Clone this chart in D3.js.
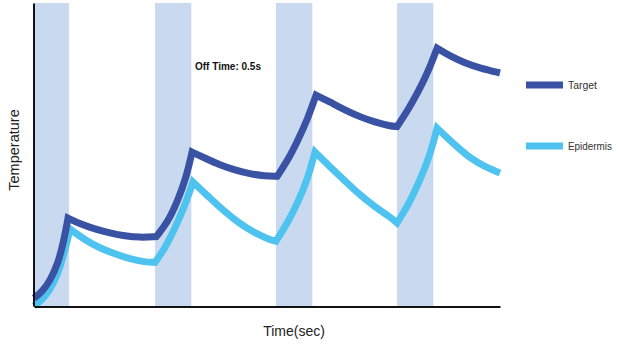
<!DOCTYPE html>
<html>
<head>
<meta charset="utf-8">
<script src="https://cdn.jsdelivr.net/npm/d3@7"></script>
<style>
  html, body { margin: 0; padding: 0; background: #fff; }
  svg { display: block; }
</style>
</head>
<body>
<svg id="chart" width="618" height="349"></svg>
<script>
// ---- data ----
// heating pulses (on-time windows), in seconds
const pulseStart = [0, 1, 2, 3];
const pulseEnd   = [0.29, 1.3, 2.3, 3.3];

// Target temperature curve (segments split at peaks/troughs)
const targetTime = [
  [0, 0.066, 0.132, 0.198, 0.248, 0.281],
  [0.281, 0.38, 0.504, 0.628, 0.752, 0.876, 1.01],
  [1.01, 1.107, 1.19, 1.256, 1.306],
  [1.306, 1.413, 1.537, 1.661, 1.785, 1.909, 2.01],
  [2.01, 2.099, 2.182, 2.264, 2.331],
  [2.331, 2.446, 2.57, 2.694, 2.818, 2.942, 3.0],
  [3.0, 3.091, 3.174, 3.256, 3.331],
  [3.331, 3.438, 3.562, 3.686, 3.851]
];
const targetTemp = [
  [2.6, 4.6, 8.3, 13.9, 21.8, 29.0],
  [29.0, 27.1, 25.4, 24.1, 23.1, 22.6, 22.9],
  [22.9, 27.7, 35.0, 42.2, 50.8],
  [50.8, 48.8, 46.5, 44.9, 43.6, 42.9, 42.8],
  [42.8, 48.2, 54.8, 62.0, 69.6],
  [69.6, 67.3, 64.7, 62.4, 60.7, 59.4, 59.2],
  [59.2, 64.7, 70.6, 77.2, 85.1],
  [85.1, 82.5, 80.2, 78.5, 76.9]
];

// Epidermis temperature curve
const epiTime = [
  [0, 0.066, 0.132, 0.198, 0.248, 0.298],
  [0.298, 0.421, 0.545, 0.669, 0.793, 0.917, 1.0],
  [1.0, 1.083, 1.165, 1.248, 1.314],
  [1.314, 1.455, 1.579, 1.702, 1.826, 1.95, 2.0],
  [2.0, 2.099, 2.182, 2.264, 2.322],
  [2.322, 2.446, 2.57, 2.694, 2.818, 2.942, 3.0],
  [3.0, 3.107, 3.19, 3.273, 3.331],
  [3.331, 3.479, 3.603, 3.727, 3.851]
];
const epiTemp = [
  [0, 2.0, 5.3, 10.6, 17.2, 25.4],
  [25.4, 21.8, 19.1, 17.2, 15.5, 14.5, 14.4],
  [14.4, 19.1, 25.7, 33.3, 40.9],
  [40.9, 35.6, 31.0, 27.1, 24.1, 21.8, 21.4],
  [21.4, 27.7, 34.3, 42.2, 50.8],
  [50.8, 45.9, 41.3, 36.6, 32.7, 29.4, 27.4],
  [27.4, 34.3, 41.6, 49.8, 58.7],
  [58.7, 53.1, 48.8, 45.9, 43.9]
];

const seriesNames = ["Target", "Epidermis"];
const seriesColors = ["#3a52a3", "#4fc3ef"];
const annotation = "Off Time: 0.5s";
const xLabel = "Time(sec)";
const yLabel = "Temperature";

// ---- layout ----
const svg = d3.select("#chart");
const plotLeft = 34, plotRight = 500, plotTop = 3, plotBottom = 306;

const x = d3.scaleLinear().domain([0, 3.851]).range([plotLeft, plotRight]);
const y = d3.scaleLinear().domain([0, 100]).range([plotBottom, plotTop]);

// bands
svg.append("g").selectAll("rect")
  .data(pulseStart.map((s, i) => [s, pulseEnd[i]]))
  .join("rect")
  .attr("x", d => x(d[0]))
  .attr("width", d => x(d[1]) - x(d[0]))
  .attr("y", plotTop)
  .attr("height", plotBottom - plotTop)
  .attr("fill", "#c9daf0");

// curves
function buildPath(times, temps) {
  const line = d3.line().x(d => x(d[0])).y(d => y(d[1])).curve(d3.curveBasis);
  let out = "";
  times.forEach((ts, i) => {
    const pts = ts.map((t, j) => [t, temps[i][j]]);
    let p = line(pts);
    if (i > 0) p = p.replace(/^M[^A-Za-z]*/, "");
    out += p;
  });
  return out;
}

const seriesData = [[targetTime, targetTemp], [epiTime, epiTemp]];
[1, 0].forEach(i => {
  svg.append("path")
    .attr("d", buildPath(seriesData[i][0], seriesData[i][1]))
    .attr("fill", "none")
    .attr("stroke", seriesColors[i])
    .attr("stroke-width", 7)
    .attr("stroke-linejoin", "miter")
    .attr("stroke-miterlimit", 10);
});

// axes
const xAxis = d3.axisBottom(x).tickValues([]).tickSizeOuter(0);
const yAxis = d3.axisLeft(y).tickValues([]).tickSizeOuter(0);
svg.append("g").attr("transform", `translate(0,${plotBottom + 0.5})`).call(xAxis)
  .select(".domain").attr("stroke", "#111").attr("stroke-width", 2);
svg.append("g").attr("transform", `translate(${plotLeft - 0.5},0)`).call(yAxis)
  .select(".domain").attr("stroke", "#111").attr("stroke-width", 2);

// annotation
svg.append("text")
  .attr("x", 195).attr("y", 70)
  .attr("font-family", "Liberation Sans, Arial, sans-serif")
  .attr("font-weight", "bold")
  .attr("font-size", 10)
  .attr("fill", "#111")
  .text(annotation);

// axis labels
svg.append("text")
  .attr("x", 294).attr("y", 336)
  .attr("text-anchor", "middle")
  .attr("font-family", "Liberation Sans, Arial, sans-serif")
  .attr("font-size", 14)
  .attr("fill", "#222")
  .text(xLabel);

svg.append("text")
  .attr("transform", "translate(19,150) rotate(-90)")
  .attr("text-anchor", "middle")
  .attr("font-family", "Liberation Sans, Arial, sans-serif")
  .attr("font-size", 14.5)
  .attr("fill", "#222")
  .text(yLabel);

// legend
const legendY = [85, 146];
const legendW = [29, 44];
const lg = svg.append("g");
seriesNames.forEach((name, i) => {
  lg.append("rect")
    .attr("x", 526).attr("y", legendY[i] - 3.5)
    .attr("width", 37).attr("height", 7)
    .attr("fill", seriesColors[i]);
  lg.append("text")
    .attr("x", 568).attr("y", legendY[i] + 4)
    .attr("font-family", "Liberation Sans, Arial, sans-serif")
    .attr("font-size", 11)
    .attr("fill", "#333")
    .attr("textLength", legendW[i])
    .attr("lengthAdjust", "spacingAndGlyphs")
    .text(name);
});
</script>
</body>
</html>
